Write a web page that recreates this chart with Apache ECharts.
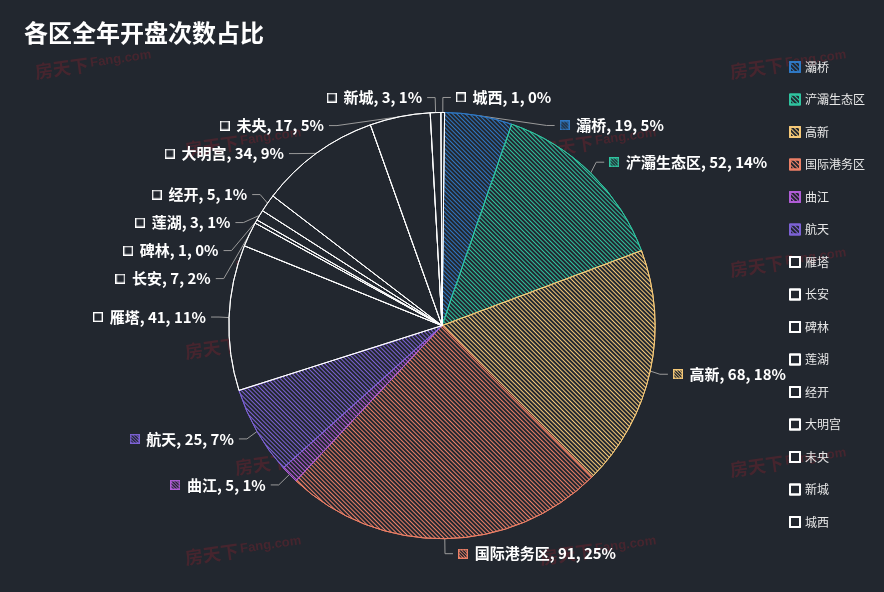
<!DOCTYPE html>
<html>
<head>
<meta charset="utf-8">
<script src="https://cdn.jsdelivr.net/npm/echarts@6/dist/echarts.min.js"></script>
<style>
html,body{margin:0;padding:0;background:#22272f;}
#main{width:884px;height:592px;}
</style>
</head>
<body>
<div id="main"></div>
<script>
const districts = ['灞桥','浐灞生态区','高新','国际港务区','曲江','航天','雁塔','长安','碑林','莲湖','经开','大明宫','未央','新城','城西'];
const counts = [19,52,68,91,5,25,41,7,1,3,5,34,17,3,1];
const sliceColors = ['#2f78c4','#2fc4a0','#f5c877','#ec7f66','#b05cd6','#7d62d6','#ffffff','#ffffff','#ffffff','#ffffff','#ffffff','#ffffff','#ffffff','#ffffff','#ffffff'];
const hatched = [true,true,true,true,true,true,false,false,false,false,false,false,false,false,false];
const titleText = '各区全年开盘次数占比';

const BG = '#22272f';
const FONT = '"Noto Sans CJK SC","Microsoft YaHei",sans-serif';

function makeIcon(color, hatch){
  const s = 10;
  const c = document.createElement('canvas');
  c.width = s; c.height = s;
  const ctx = c.getContext('2d');
  ctx.fillStyle = BG; ctx.fillRect(0,0,s,s);
  if (hatch){
    ctx.strokeStyle = color; ctx.lineWidth = 1;
    for (let k=-s; k<2*s; k+=3){
      ctx.beginPath(); ctx.moveTo(k,0); ctx.lineTo(k+s,s); ctx.stroke();
    }
  }
  ctx.strokeStyle = color; ctx.lineWidth = 1.4;
  ctx.strokeRect(0.7,0.7,s-1.4,s-1.4);
  return c;
}

const rich = {
  t: {color:'#ffffff', fontSize:15, fontWeight:'bold', fontFamily:FONT}
};
districts.forEach((d,i)=>{
  rich['i'+i] = {width:10, height:10, backgroundColor:{image: makeIcon(sliceColors[i], hatched[i])}};
});

const data = districts.map((name,i)=>({
  name: name,
  value: counts[i],
  itemStyle: {
    color: BG,
    borderColor: sliceColors[i],
    borderWidth: 1,
    decal: hatched[i] ? {
      symbol:'rect', symbolSize:1, dashArrayX:[1,0], dashArrayY:[1,2],
      rotation: Math.PI/4, color: sliceColors[i]
    } : {symbol:'none', color:'rgba(0,0,0,0)'}
  }
}));

const watermarkPos = [[35,72],[730,72],[540,150],[185,150],[235,268],[730,270],[185,352],[540,352],[235,468],[730,470],[185,558],[540,558]];
const graphics = watermarkPos.map(p=>({
  type:'group', x:p[0], y:p[1], rotation:0.14, z:100, silent:true,
  children:[
    {type:'text', style:{text:'房天下', x:0, y:0, fill:'rgba(200,30,45,0.22)', font:'bold 18px '+FONT, textVerticalAlign:'middle'}},
    {type:'text', style:{text:'Fang.com', x:56, y:-1, fill:'rgba(200,30,45,0.22)', font:'bold 13px sans-serif', textVerticalAlign:'middle'}}
  ]
}));

const chart = echarts.init(document.getElementById('main'), null, {renderer:'canvas'});
chart.setOption({
  backgroundColor: BG,
  animation: false,
  title: {
    text: titleText, left: 19, top: 16,
    textStyle: {color:'#ffffff', fontSize:24, fontWeight:'bold', fontFamily:FONT}
  },
  legend: {
    orient:'vertical', left: 784, top: 56,
    itemWidth: 10, itemHeight: 10, itemGap: 20.5,
    icon: 'rect',
    data: districts,
    textStyle: {color:'#e8e8e8', fontSize:12, fontFamily:FONT}
  },
  graphic: graphics,
  series: [{
    type:'pie',
    center:['50%','55%'],
    radius:'72%',
    startAngle: 89.3,
    percentPrecision: 0,
    data: data,
    label: {
      show: true,
      minMargin: 13,
      formatter: p => `{i${p.dataIndex}|}  {t|${p.name}, ${p.value}, ${p.percent}%}`,
      rich: rich
    },
    labelLine: {length: 15, length2: 8, lineStyle:{color:'#9a9a9a', width:1}},
    emphasis: {disabled: true}
  }]
});
</script>
</body>
</html>
